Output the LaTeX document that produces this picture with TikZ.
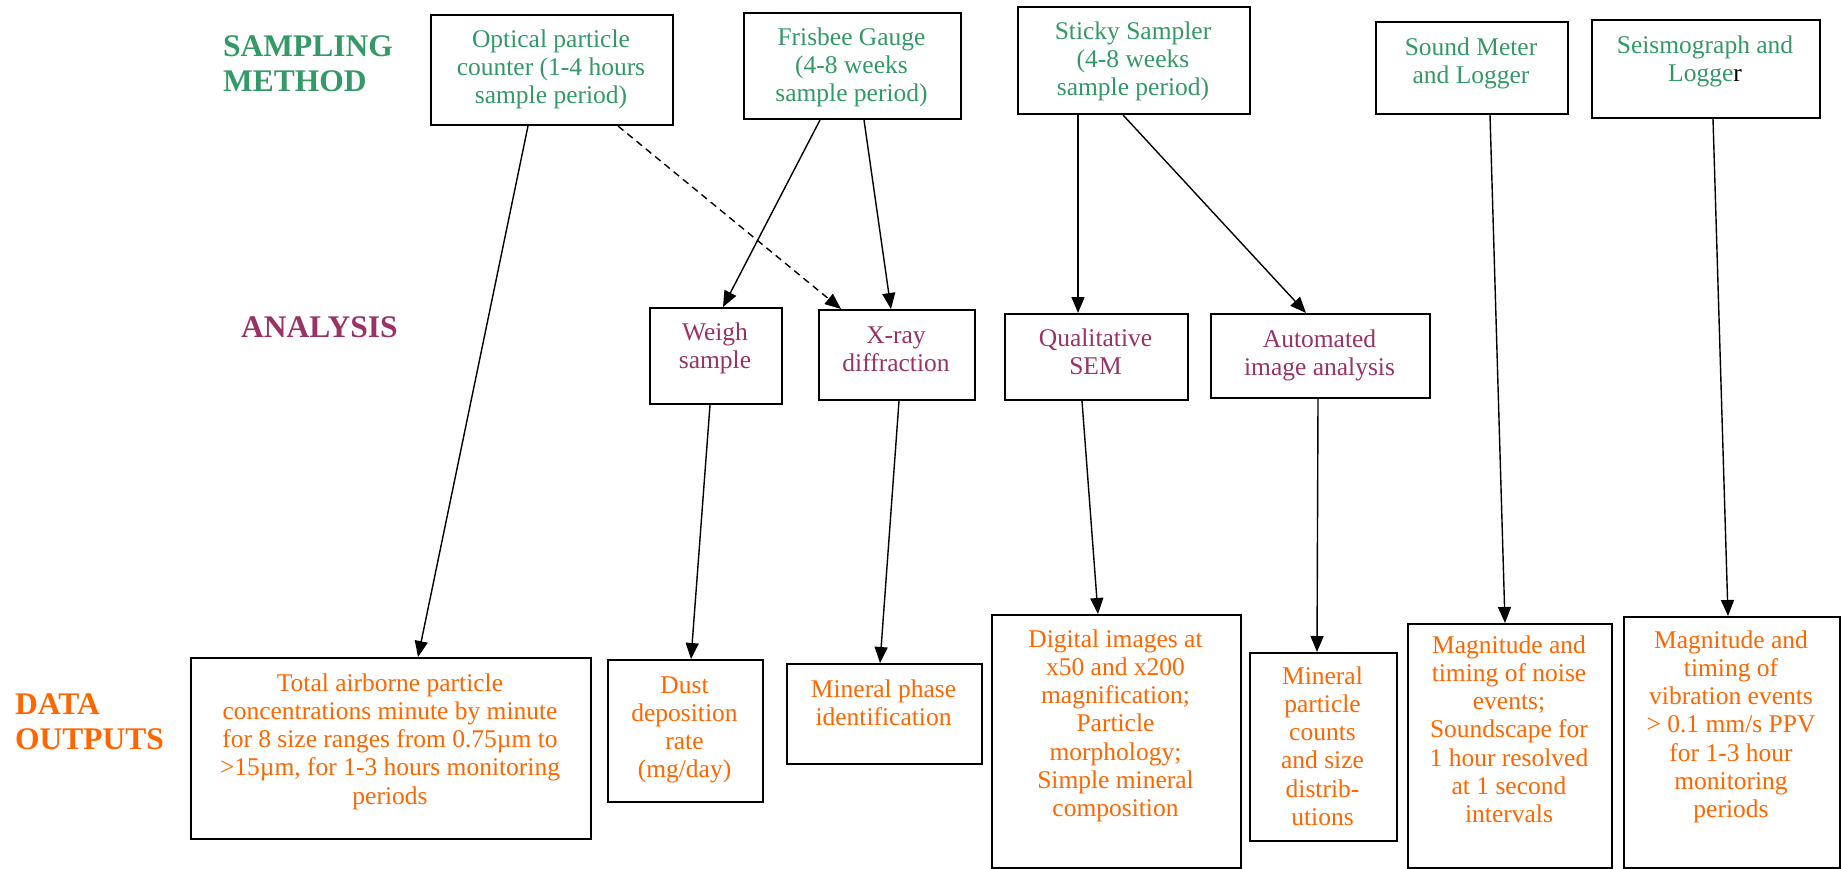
\documentclass[tikz,border=0pt]{standalone}
\usepackage{fontspec}
\setmainfont{Liberation Serif}
\usetikzlibrary{arrows.meta}
\definecolor{smgreen}{RGB}{51,153,102}
\definecolor{anpurple}{RGB}{153,51,102}
\definecolor{doorange}{RGB}{255,102,0}
\newcommand\mlines[1]{\parbox[t]{480pt}{\centering #1}}
\newcommand\llines[1]{\parbox[t]{330pt}{\raggedright #1}}
\tikzset{
  box/.style={draw=black, line width=2pt, inner sep=0pt, anchor=north west},
  txt/.style={inner sep=0pt, anchor=base, font=\fontsize{25.5}{28.3}\selectfont},
  gtxt/.style={txt, text=smgreen},
  ptxt/.style={txt, text=anpurple},
  otxt/.style={txt, text=doorange},
  head/.style={inner sep=0pt, anchor=base west, font=\fontsize{31.5}{35}\selectfont\bfseries},
  conn/.style={line width=1.4pt, -{Triangle[length=16pt,width=13pt]}},
  dconn/.style={conn, dash pattern=on 7pt off 5pt}
}
\begin{document}
\begin{tikzpicture}[x=1pt,y=-1pt]
\useasboundingbox (0,0) rectangle (1841,868);

% headings
\node[head, text=smgreen] (hSM) at (223,56) {\llines{SAMPLING\\METHOD}};
\node[head, text=anpurple] (hAN) at (241,337) {ANALYSIS};
\node[head, text=doorange] (hDO) at (15,714) {\llines{DATA\\OUTPUTS}};

% sampling method boxes
\node[box, minimum width=242pt, minimum height=110pt] (opt) at (430,14) {};
\node[gtxt] (optT) at (551,47) {\mlines{Optical particle\\counter (1-4 hours\\sample period)}};
\node[box, minimum width=217pt, minimum height=106pt] (fris) at (743,12) {};
\node[gtxt] (frisT) at (851.5,45) {\mlines{Frisbee Gauge\\(4-8 weeks\\sample period)}};
\node[box, minimum width=232pt, minimum height=107pt] (stk) at (1017,6) {};
\node[gtxt] (stkT) at (1133,39) {\mlines{Sticky Sampler\\(4-8 weeks\\sample period)}};
\node[box, minimum width=192pt, minimum height=92pt] (snd) at (1375,21) {};
\node[gtxt] (sndT) at (1471,55) {\mlines{Sound Meter\\and Logger}};
\node[box, minimum width=228pt, minimum height=98pt] (sei) at (1591,19) {};
\node[gtxt] (seiT) at (1705,53) {\mlines{Seismograph and\\Logge{\color{black}r}}};

% analysis boxes
\node[box, minimum width=132pt, minimum height=96pt] (wgh) at (649,307) {};
\node[ptxt] (wghT) at (715,340) {\mlines{Weigh\\sample}};
\node[box, minimum width=156pt, minimum height=90pt] (xrd) at (818,309) {};
\node[ptxt] (xrdT) at (896,343) {\mlines{X-ray\\diffraction}};
\node[box, minimum width=183pt, minimum height=86pt] (sem) at (1004,313) {};
\node[ptxt] (semT) at (1095.5,346) {\mlines{Qualitative\\SEM}};
\node[box, minimum width=219pt, minimum height=84pt] (aut) at (1210,313) {};
\node[ptxt] (autT) at (1319.5,347) {\mlines{Automated\\image analysis}};

% data output boxes
\node[box, minimum width=400pt, minimum height=181pt] (tot) at (190,657) {};
\node[otxt] (totT) at (390,691) {\mlines{Total airborne particle\\concentrations minute by minute\\for 8 size ranges from 0.75µm to\\>15µm, for 1-3 hours monitoring\\periods}};
\node[box, minimum width=155pt, minimum height=142pt] (dst) at (607,659) {};
\node[otxt] (dstT) at (684.5,693) {\mlines{Dust\\deposition\\rate\\(mg/day)}};
\node[box, minimum width=195pt, minimum height=100pt] (mph) at (786,663) {};
\node[otxt] (mphT) at (883.5,697) {\mlines{Mineral phase\\identification}};
\node[box, minimum width=249pt, minimum height=253pt] (dig) at (991,614) {};
\node[otxt] (digT) at (1115.5,647) {\mlines{Digital images at\\x50 and x200\\magnification;\\Particle\\morphology;\\Simple mineral\\composition}};
\node[box, minimum width=147pt, minimum height=188pt] (cnt) at (1249,652) {};
\node[otxt] (cntT) at (1322.5,684) {\mlines{Mineral\\particle\\counts\\and size\\distrib-\\utions}};
\node[box, minimum width=204pt, minimum height=244pt] (noi) at (1407,623) {};
\node[otxt] (noiT) at (1509,653) {\mlines{Magnitude and\\timing of noise\\events;\\Soundscape for\\1 hour resolved\\at 1 second\\intervals}};
\node[box, minimum width=216pt, minimum height=251pt] (vib) at (1623,616) {};
\node[otxt] (vibT) at (1731,648) {\mlines{Magnitude and\\timing of\\vibration events\\> 0.1 mm/s PPV\\for 1-3 hour\\monitoring\\periods}};

% connectors
\draw[conn] ([xshift=98pt]opt.south west) -- ([xshift=228pt]tot.north west);
\draw[dconn] ([xshift=188pt]opt.south west) -- ([xshift=23pt]xrd.north west);
\draw[conn] ([xshift=77pt]fris.south west) -- ([xshift=74pt]wgh.north west);
\draw[conn] ([xshift=121pt]fris.south west) -- ([xshift=73pt]xrd.north west);
\draw[conn] ([xshift=61pt]stk.south west) -- ([xshift=74pt]sem.north west);
\draw[conn] ([xshift=106pt]stk.south west) -- ([xshift=96pt]aut.north west);
\draw[conn] ([xshift=115pt]snd.south west) -- ([xshift=98pt]noi.north west);
\draw[conn] ([xshift=122pt]sei.south west) -- ([xshift=105pt]vib.north west);
\draw[conn] ([xshift=61pt]wgh.south west) -- ([xshift=84pt]dst.north west);
\draw[conn] ([xshift=81pt]xrd.south west) -- ([xshift=94pt]mph.north west);
\draw[conn] ([xshift=78pt]sem.south west) -- ([xshift=107pt]dig.north west);
\draw[conn] ([xshift=108pt]aut.south west) -- ([xshift=68pt]cnt.north west);
\end{tikzpicture}
\end{document}
